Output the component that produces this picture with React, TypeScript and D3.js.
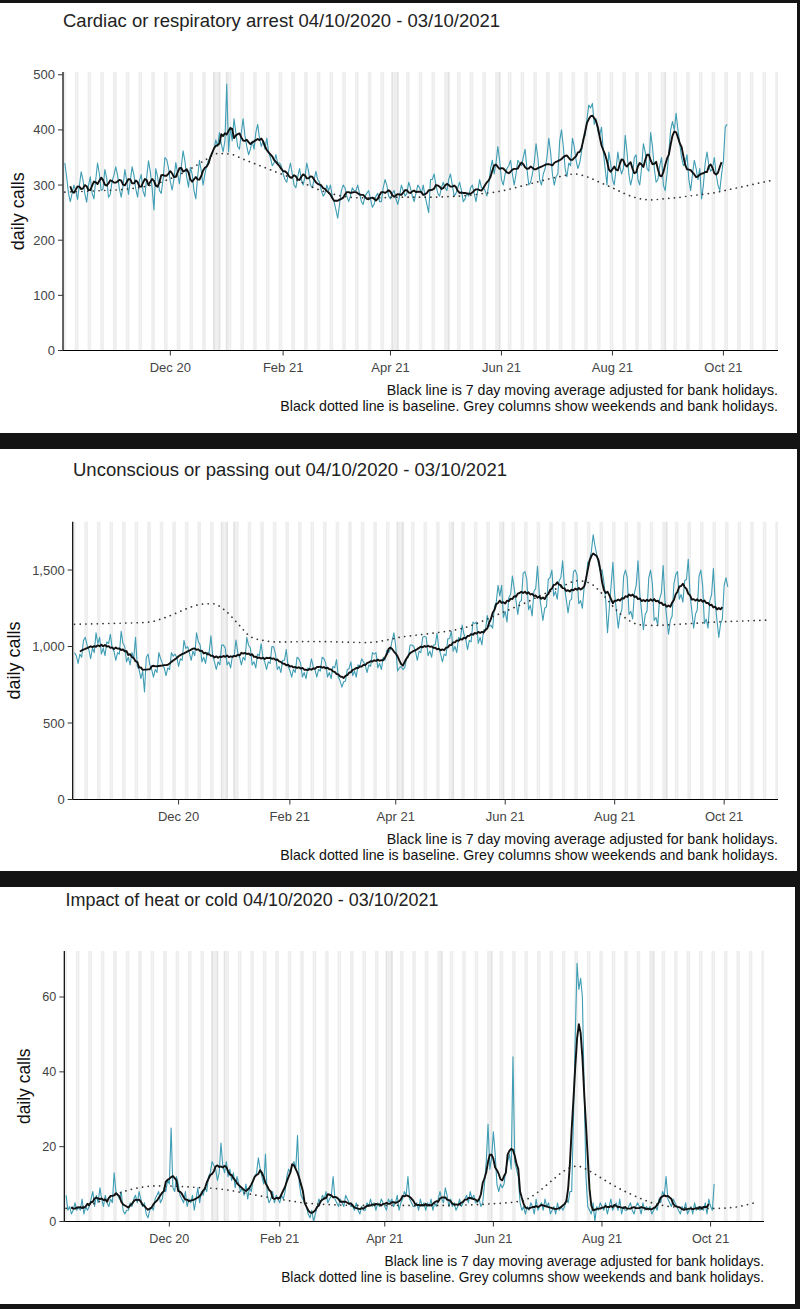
import React from 'react';
import * as d3 from 'd3';

// ---------- shared calendar data ----------
const FIRST_DAY = '2020-10-04';
const X_START = '2020-10-03';
const X_END = '2021-10-31';
const tickDates = ['2020-12-01', '2021-02-01', '2021-04-01', '2021-06-01', '2021-08-01', '2021-10-01'];
const tickLabels = ['Dec 20', 'Feb 21', 'Apr 21', 'Jun 21', 'Aug 21', 'Oct 21'];
const bankHolidays = ['2020-12-25', '2020-12-28', '2021-01-01', '2021-04-02', '2021-04-05', '2021-05-03', '2021-05-31', '2021-08-30'];
const captionLines = [
  'Black line is 7 day moving average adjusted for bank holidays.',
  'Black dotted line is baseline. Grey columns show weekends and bank holidays.',
];
// baseline knots: days after 04/10/2020
const baselineDays = [0, 7, 14, 21, 28, 35, 42, 49, 56, 63, 70, 77, 84, 91, 98, 105, 112, 119, 126, 133, 140, 147, 154, 161, 168, 175, 182, 189, 196, 203, 210, 217, 224, 231, 238, 245, 252, 259, 266, 273, 280, 287, 294, 301, 308, 315, 322, 329, 336, 343, 350, 357, 364, 371, 378, 385, 388];

// ---------- Cardiac or respiratory arrest (daily, Sun..Sat rows) ----------
const cardiacCalls = [
  340, 315, 285, 270, 285, 300, 290,
  274, 299, 324, 309, 284, 269, 299,
  315, 285, 275, 310, 340, 320, 290,
  293, 328, 313, 278, 283, 308, 318,
  333, 318, 293, 278, 298, 328, 308,
  283, 308, 333, 318, 293, 278, 308,
  319, 289, 279, 314, 344, 324, 294,
  255, 330, 315, 290, 285, 310, 350,
  346, 331, 306, 291, 311, 341, 321,
  302, 332, 362, 344, 314, 296, 332,
  320, 290, 275, 315, 345, 325, 300,
  320, 335, 345, 350, 360, 365, 382,
  370, 395, 375, 360, 380, 483, 360,
  405, 380, 420, 395, 370, 365, 395,
  420, 390, 370, 355, 365, 380, 365,
  395, 410, 385, 370, 380, 365, 385,
  360, 350, 335, 340, 355, 340, 340,
  335, 320, 310, 305, 325, 340, 320,
  300, 295, 315, 330, 310, 300, 315,
  340, 325, 300, 295, 310, 325, 310,
  305, 290, 280, 285, 300, 290, 300,
  280, 270, 255, 240, 265, 290, 300,
  295, 280, 270, 280, 295, 290, 290,
  300, 285, 270, 265, 280, 285, 290,
  275, 260, 265, 280, 285, 270, 270,
  295, 310, 300, 280, 275, 285, 290,
  275, 265, 280, 300, 290, 280, 285,
  305, 295, 280, 270, 285, 300, 295,
  285, 300, 280, 265, 250, 310, 310,
  320, 300, 285, 280, 295, 305, 295,
  290, 310, 320, 300, 280, 285, 295,
  305, 290, 270, 275, 285, 280, 295,
  300, 285, 270, 290, 310, 295, 295,
  290, 280, 300, 330, 345, 320, 340,
  370, 345, 310, 300, 320, 330, 335,
  345, 320, 300, 320, 345, 340, 335,
  350, 365, 330, 300, 305, 320, 340,
  375, 350, 310, 300, 320, 330, 350,
  385, 360, 320, 300, 315, 320, 380,
  400, 370, 330, 315, 340, 335, 385,
  370, 345, 330, 340, 360, 385, 390,
  420, 445, 440, 448, 410, 420, 397,
  390, 405, 360, 330, 300, 360, 340,
  310, 300, 330, 360, 335, 320, 330,
  390, 360, 320, 300, 315, 350, 355,
  310, 300, 330, 375, 360, 330, 325,
  395, 370, 330, 305, 310, 335, 350,
  300, 290, 320, 360, 400, 415, 400,
  430, 400, 375, 350, 335, 340, 355,
  310, 290, 320, 345, 330, 310, 330,
  275, 300, 340, 360, 335, 325, 330,
  350, 320, 300, 290, 320, 345, 405,
  410,
];
const cardiacBaseline = [
  287, 288, 289, 290, 291, 293, 296, 301, 309, 319, 331, 345, 357,
  356, 347, 338, 329, 320, 311, 301, 291, 284, 279, 277, 277, 277, 278,
  278, 278, 278, 279, 280, 282, 285, 288, 293, 299, 305, 311, 316, 320,
  315, 305, 295, 284, 276, 273, 275, 277, 280, 283, 286, 291, 296, 301,
  306, 308,
];
const cardiacTicks = [0, 100, 200, 300, 400, 500];

// ---------- Unconscious or passing out (daily, Sun..Sat rows) ----------
const unconsciousCalls = [
  960, 940, 890, 950, 930, 1040, 1060,
  1010, 980, 920, 990, 960, 1090, 1020,
  1060, 950, 990, 940, 1030, 1020, 1080,
  990, 970, 910, 960, 950, 1100, 1022,
  1000, 900, 930, 880, 960, 920, 1060,
  870, 850, 790, 840, 703, 930, 950,
  880, 850, 800, 850, 830, 960, 920,
  890, 860, 810, 860, 850, 960, 937,
  950, 930, 870, 920, 910, 1040, 988,
  1000, 960, 910, 970, 940, 1090, 1032,
  1010, 900, 930, 890, 960, 960, 1070,
  940, 900, 850, 900, 880, 1010, 1009,
  990, 880, 900, 860, 940, 940, 1042,
  960, 930, 880, 930, 910, 1060, 1008,
  990, 880, 900, 860, 950, 940, 1018,
  930, 900, 850, 900, 890, 1000, 998,
  950, 850, 870, 830, 910, 910, 980,
  870, 845, 800, 850, 830, 930, 920,
  890, 800, 830, 790, 860, 850, 920,
  870, 850, 800, 850, 840, 930, 920,
  890, 800, 830, 790, 870, 860, 915,
  800, 775, 735, 770, 775, 850, 855,
  900, 810, 840, 800, 880, 870, 920,
  900, 880, 830, 880, 870, 960, 950,
  960, 860, 890, 850, 930, 910, 975,
  960, 980, 1040, 1090, 1000, 840, 860,
  870, 850, 860, 920, 930, 1010, 1010,
  1000, 970, 910, 970, 960, 1060, 1067,
  1060, 940, 970, 930, 1010, 1010, 1087,
  990, 950, 900, 950, 940, 1050, 1052,
  1100, 970, 1000, 960, 1060, 1050, 1140,
  1080, 1050, 980, 1040, 1030, 1160, 1150,
  1160, 1020, 1060, 1010, 1110, 1110, 1202,
  1130, 1140, 1120, 1260, 1290, 1400, 1330,
  1400, 1190, 1230, 1160, 1320, 1340, 1460,
  1380, 1300, 1210, 1290, 1300, 1480, 1490,
  1440, 1240, 1270, 1200, 1360, 1380, 1525,
  1340, 1260, 1170, 1250, 1260, 1440, 1450,
  1500, 1330, 1360, 1310, 1430, 1450, 1560,
  1390, 1310, 1220, 1300, 1310, 1490, 1500,
  1470, 1280, 1300, 1250, 1390, 1420, 1550,
  1560, 1620, 1730, 1660, 1600, 1540, 1490,
  1500, 1420, 1300, 1090, 1250, 1400, 1550,
  1340, 1230, 1120, 1210, 1240, 1460, 1500,
  1450, 1210, 1230, 1180, 1350, 1400, 1560,
  1340, 1230, 1110, 1210, 1230, 1450, 1500,
  1410, 1170, 1190, 1140, 1310, 1350, 1530,
  1300, 1190, 1080, 1170, 1200, 1410, 1470,
  1490, 1310, 1340, 1290, 1430, 1440, 1570,
  1340, 1230, 1120, 1210, 1240, 1460, 1500,
  1400, 1150, 1180, 1120, 1300, 1340, 1510,
  1290, 1170, 1060, 1150, 1180, 1400, 1450,
  1390,
];
const unconsciousBaseline = [
  1145, 1147, 1149, 1151, 1153, 1155, 1160, 1183, 1215, 1250, 1275, 1280, 1235,
  1150, 1065, 1040, 1030, 1030, 1032, 1033, 1032, 1030, 1028, 1026, 1030, 1045, 1062,
  1072, 1082, 1092, 1104, 1122, 1150, 1185, 1220, 1255, 1290, 1330, 1365, 1400, 1430,
  1415, 1345, 1250, 1178, 1142, 1138, 1140, 1145, 1150, 1155, 1160, 1163, 1166, 1169,
  1172, 1173,
];
const unconsciousTicks = [0, 500, 1000, 1500];

// ---------- Impact of heat or cold (daily, Sun..Sat rows) ----------
const heatCalls = [
  7, 3, 4, 2, 3, 5, 3,
  4, 3, 6, 2, 4, 3, 4,
  6, 8, 4, 7, 5, 9, 6,
  4, 7, 5, 4, 6, 5, 13,
  8, 7, 6, 8, 3, 2, 3,
  3, 5, 4, 6, 7, 5, 8,
  6, 4, 5, 2, 1, 3, 4,
  3, 6, 7, 8, 5, 6, 9,
  8, 11, 10, 25, 9, 8, 12,
  10, 7, 6, 5, 8, 4, 6,
  5, 7, 3, 6, 9, 5, 8,
  7, 9, 8, 12, 13, 16, 15,
  14, 11, 13, 21, 15, 13, 16,
  12, 14, 11, 13, 9, 12, 10,
  8, 9, 7, 10, 6, 9, 8,
  11, 12, 13, 17, 14, 12, 10,
  18, 7, 5, 6, 8, 5, 7,
  6, 5, 7, 6, 8, 12, 14,
  13, 15, 16, 14, 23, 10, 7,
  6, 5, 4, 2, 1, 3, 0,
  2, 4, 6, 5, 7, 6, 8,
  5, 6, 7, 12, 6, 5, 4,
  6, 5, 4, 7, 6, 5, 4,
  4, 3, 5, 3, 2, 4, 3,
  3, 5, 4, 6, 4, 5, 3,
  5, 4, 6, 5, 4, 3, 6,
  5, 6, 4, 5, 7, 3, 5,
  6, 8, 7, 12, 6, 5, 4,
  4, 5, 3, 6, 4, 5, 3,
  5, 4, 6, 3, 5, 4, 6,
  8, 6, 5, 9, 7, 4, 6,
  4, 5, 3, 4, 6, 4, 5,
  6, 7, 5, 8, 6, 7, 5,
  5, 6, 4, 5, 10, 16, 26,
  14, 17, 24, 18, 10, 8, 10,
  9, 10, 14, 16, 18, 14, 44,
  16, 14, 12, 5, 3, 4, 2,
  4, 3, 5, 4, 2, 6, 3,
  4, 5, 3, 6, 4, 5, 2,
  3, 4, 2, 5, 3, 4, 3,
  4, 6, 5, 8, 8, 28, 50,
  69, 62, 65, 60, 35, 12, 4,
  3, 2, 5, 0, 4, 3, 5,
  4, 3, 5, 2, 4, 6, 3,
  4, 5, 3, 6, 2, 4, 3,
  3, 4, 5, 3, 2, 4, 5,
  4, 2, 5, 3, 4, 3, 4,
  2, 3, 4, 3, 6, 5, 8,
  7, 12, 6, 5, 4, 6, 5,
  4, 3, 2, 4, 3, 5, 2,
  3, 4, 2, 5, 3, 4, 3,
  4, 3, 5, 2, 6, 4, 3,
  10,
];
const heatBaseline = [
  3.5, 3.8, 4.5, 5.8, 7.2, 8.4, 9.1, 9.5, 9.5, 9.4, 9.2, 9.0, 8.8,
  8.4, 7.8, 7.2, 6.6, 6.0, 5.5, 5.0, 4.7, 4.5, 4.4, 4.3, 4.3, 4.3, 4.3,
  4.3, 4.3, 4.3, 4.3, 4.3, 4.4, 4.5, 4.7, 4.9, 5.2, 6.0, 8.2, 11.0, 13.6,
  14.8, 13.5, 11.5, 9.5, 7.8, 6.3, 5.0, 4.2, 3.8, 3.6, 3.5, 3.5, 3.6, 4.0,
  4.8, 5.1,
];
const heatTicks = [0, 20, 40, 60];

// ---------- helpers ----------
const parse = d3.utcParse('%Y-%m-%d');
const DAY_MS = 864e5;
const firstDate = parse(FIRST_DAY) as Date;
const dateOf = (i: number) => new Date(firstDate.getTime() + i * DAY_MS);
const bankSet = new Set(bankHolidays);
const fmtKey = d3.utcFormat('%Y-%m-%d');

function movingAverage(v: number[]): (number | null)[] {
  return v.map((_, i) => (i < 3 || i > v.length - 4 ? null : (d3.mean(v.slice(i - 3, i + 4)) as number)));
}

const FONT = 'Liberation Sans, Arial, Helvetica, sans-serif';

type Spec = {
  title: string;
  calls: number[];
  baseline: number[];
  ticks: number[];
  yMax: number;
  frame: [number, number, number, number];
  left: number;
  right: number;
  top: number;
  bottom: number;
  titleX: number;
  titleY: number;
  yLabX: number;
  fs: number;
};

const specs: Spec[] = [
  {
    title: 'Cardiac or respiratory arrest 04/10/2020 - 03/10/2021',
    calls: cardiacCalls, baseline: cardiacBaseline, ticks: cardiacTicks, yMax: 505,
    frame: [0, 3, 797, 433], left: 63, right: 778, top: 72, bottom: 350.5,
    titleX: 63, titleY: 27, yLabX: 23.5, fs: 1,
  },
  {
    title: 'Unconscious or passing out 04/10/2020 - 03/10/2021',
    calls: unconsciousCalls, baseline: unconsciousBaseline, ticks: unconsciousTicks, yMax: 1816,
    frame: [0, 449, 797, 871], left: 72.7, right: 778, top: 521.7, bottom: 799.5,
    titleX: 73, titleY: 476, yLabX: 19.5, fs: 1,
  },
  {
    title: 'Impact of heat or cold 04/10/2020 - 03/10/2021',
    calls: heatCalls, baseline: heatBaseline, ticks: heatTicks, yMax: 72.3,
    frame: [0, 887, 795, 1304], left: 64.3, right: 764, top: 951, bottom: 1221.5,
    titleX: 65.5, titleY: 906, yLabX: 29.5, fs: 0.97,
  },
];

function Panel({ s }: { s: Spec }) {
  const x0 = parse(X_START) as Date;
  const x1 = parse(X_END) as Date;
  const x = d3.scaleUtc().domain([x0, x1]).range([s.left, s.right]);
  const y = d3.scaleLinear().domain([0, s.yMax]).range([s.bottom, s.top]);

  const allDays = d3.utcDay.range(x0, d3.utcDay.offset(x1, 1));
  const shaded = allDays.filter((d) => d.getUTCDay() === 0 || d.getUTCDay() === 6 || bankSet.has(fmtKey(d)));
  const half = DAY_MS / 2;

  const ma = movingAverage(s.calls);
  const rawLine = d3.line<number>().x((_, i) => x(dateOf(i))).y((v) => y(v));
  const maLine = d3
    .line<number | null>()
    .defined((v) => v != null)
    .x((_, i) => x(dateOf(i)))
    .y((v) => y(v as number));
  const baseLine = d3
    .line<number>()
    .x((_, i) => x(dateOf(baselineDays[i])))
    .y((v) => y(v))
    .curve(d3.curveMonotoneX);

  const [fx0, fy0, fx1, fy1] = s.frame;
  const fmt = d3.format(',');
  return (
    <g>
      <rect x={fx0} y={fy0} width={fx1 - fx0} height={fy1 - fy0} fill="#ffffff" />
      {shaded.map((d, i) => {
        const a = Math.max(s.left, x(new Date(d.getTime() - half)));
        const b = Math.min(s.right, x(new Date(d.getTime() + half)));
        const bank = bankSet.has(fmtKey(d));
        return <rect key={i} x={a} y={s.top} width={Math.max(0, b - a)} height={s.bottom - s.top} fill={bank ? '#e2e2e2' : '#eeeeee'} />;
      })}
      <path d={rawLine(s.calls) || ''} fill="none" stroke="#3f9db4" strokeWidth={1.1} strokeLinejoin="round" />
      <path d={baseLine(s.baseline) || ''} fill="none" stroke="#333333" strokeWidth={1.7} strokeDasharray="0.1 5.6" strokeLinecap="round" />
      <path d={maLine(ma) || ''} fill="none" stroke="#111111" strokeWidth={1.9} strokeLinejoin="round" />
      <line x1={s.left} x2={s.left} y1={s.top} y2={s.bottom} stroke="#000" strokeWidth={1.2} />
      <line x1={s.left} x2={s.right} y1={s.bottom} y2={s.bottom} stroke="#000" strokeWidth={1.2} />
      {s.ticks.map((t) => (
        <g key={t}>
          <line x1={s.left - 5} x2={s.left} y1={y(t)} y2={y(t)} stroke="#333" strokeWidth={1} />
          <text x={s.left - 8} y={y(t)} dy="0.35em" textAnchor="end" fontFamily={FONT} fontSize={13 * s.fs} fill="#444">
            {fmt(t)}
          </text>
        </g>
      ))}
      {tickDates.map((t, i) => {
        const px = x(parse(t) as Date);
        return (
          <g key={t}>
            <line x1={px} x2={px} y1={s.bottom} y2={s.bottom + 5} stroke="#333" strokeWidth={1} />
            <text x={px} y={s.bottom + 21} textAnchor="middle" fontFamily={FONT} fontSize={13 * s.fs} fill="#444">
              {tickLabels[i]}
            </text>
          </g>
        );
      })}
      <text x={s.titleX} y={s.titleY} fontFamily={FONT} fontSize={18.5 * s.fs} fill="#222">
        {s.title}
      </text>
      <text
        transform={`translate(${s.yLabX},${(s.top + s.bottom) / 2}) rotate(-90)`}
        textAnchor="middle"
        fontFamily={FONT}
        fontSize={18 * s.fs}
        fill="#111"
      >
        daily calls
      </text>
      {captionLines.map((c, i) => (
        <text key={i} x={s.right} y={s.bottom + 44.5 + i * 16 * s.fs} textAnchor="end" fontFamily={FONT} fontSize={14.2 * s.fs} fill="#111">
          {c}
        </text>
      ))}
    </g>
  );
}

export default function App() {
  return (
    <div style={{ position: 'absolute', left: 0, top: 0 }}>
      <svg width={800} height={1309} viewBox="0 0 800 1309" style={{ display: 'block' }}>
        <rect x={0} y={0} width={800} height={1309} fill="#141414" />
        {specs.map((s, i) => (
          <Panel key={i} s={s} />
        ))}
      </svg>
    </div>
  );
}
